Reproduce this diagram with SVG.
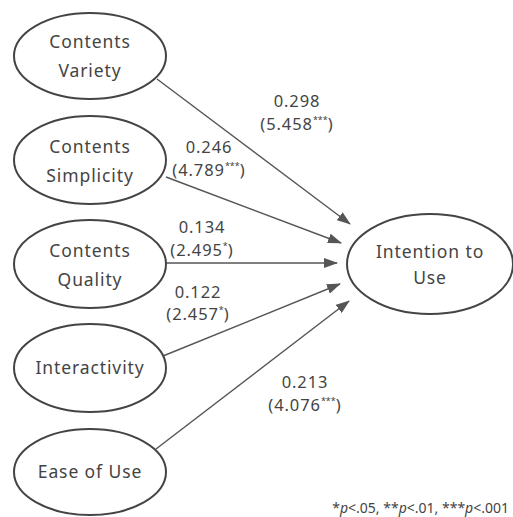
<svg xmlns="http://www.w3.org/2000/svg" width="513" height="517" viewBox="0 0 513 517">
<style>
text{font-family:"Noto Sans","DejaVu Sans",sans-serif;fill:#444;font-size:17.5px;letter-spacing:0.9px;text-anchor:middle}
.node ellipse{fill:#fff;stroke:#444;stroke-width:2}
.edge line{stroke:#555;stroke-width:1.4}
.sup{font-size:9px;letter-spacing:0}
.lbl{font-size:16.5px}
.fn{font-size:14px;letter-spacing:0;text-anchor:end}
</style>
<defs>
<marker id="ah" markerWidth="14" markerHeight="10" refX="13" refY="5" orient="auto" markerUnits="userSpaceOnUse">
<path d="M0,0 L14,5 L0,10 Z" fill="#555"/>
</marker>
</defs>
<rect width="513" height="517" fill="#fff"/>
<g id="edges" class="edge">
<line x1="157" y1="79" x2="350" y2="224" marker-end="url(#ah)"/>
<line x1="166" y1="177" x2="341" y2="243" marker-end="url(#ah)"/>
<line x1="166" y1="263" x2="337" y2="263" marker-end="url(#ah)"/>
<line x1="163" y1="356" x2="340" y2="284" marker-end="url(#ah)"/>
<line x1="156" y1="449" x2="349" y2="301" marker-end="url(#ah)"/>
</g>
<g id="n1" class="node"><ellipse cx="90" cy="56" rx="76" ry="43"/><text x="90" y="48">Contents</text><text x="90" y="77">Variety</text></g>
<g id="n2" class="node"><ellipse cx="90" cy="160" rx="76" ry="44"/><text x="90" y="153">Contents</text><text x="90" y="182">Simplicity</text></g>
<g id="n3" class="node"><ellipse cx="90" cy="264" rx="76" ry="44"/><text x="90" y="257">Contents</text><text x="90" y="286">Quality</text></g>
<g id="n4" class="node"><ellipse cx="90" cy="368" rx="76" ry="44"/><text x="90" y="374">Interactivity</text></g>
<g id="n5" class="node"><ellipse cx="90" cy="472" rx="76" ry="43"/><text x="90" y="478">Ease of Use</text></g>
<g id="n6" class="node"><ellipse cx="430" cy="264" rx="83" ry="50"/><text x="430" y="258">Intention to</text><text x="430" y="284">Use</text></g>
<g id="labels">
<text class="lbl" x="297" y="107">0.298</text><text class="lbl" x="297" y="130">(5.458<tspan class="sup" dy="-7">***</tspan><tspan dy="7">)</tspan></text>
<text class="lbl" x="209" y="153">0.246</text><text class="lbl" x="209" y="176">(4.789<tspan class="sup" dy="-7">***</tspan><tspan dy="7">)</tspan></text>
<text class="lbl" x="202" y="233">0.134</text><text class="lbl" x="202" y="256">(2.495<tspan class="sup" dy="-7">*</tspan><tspan dy="7">)</tspan></text>
<text class="lbl" x="198" y="298">0.122</text><text class="lbl" x="198" y="320">(2.457<tspan class="sup" dy="-7">*</tspan><tspan dy="7">)</tspan></text>
<text class="lbl" x="305" y="388">0.213</text><text class="lbl" x="305" y="411">(4.076<tspan class="sup" dy="-7">***</tspan><tspan dy="7">)</tspan></text>
<text class="fn" x="509" y="513">*<tspan font-style="italic">p</tspan>&lt;.05, **<tspan font-style="italic">p</tspan>&lt;.01, ***<tspan font-style="italic">p</tspan>&lt;.001</text>
</g>
</svg>
